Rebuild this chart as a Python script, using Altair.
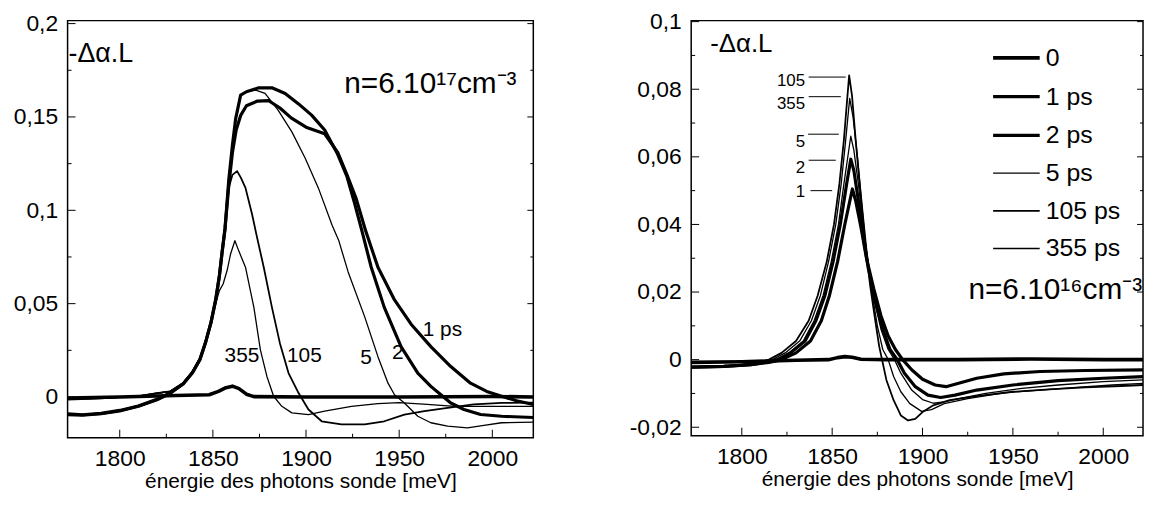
import altair as alt
import pandas as pd

FONT = "Liberation Sans"
SERIES = ["0", "1 ps", "2 ps", "5 ps", "105 ps", "355 ps"]
WIDTHS = [3.6, 3.2, 3.2, 1.3, 1.8, 1.3]

X_DOMAIN = [1772, 2022]
X_MAJOR = [1800, 1850, 1900, 1950, 2000]
X_MINOR = [1825, 1875, 1925, 1975]
X_TITLE = "énergie des photons sonde [meV]"

# ---------------- left panel (n = 6.10^17 cm^-3) ----------------
L0_E = [1772, 1800, 1830, 1848, 1853, 1857, 1860.5, 1864, 1868, 1872, 1900, 1950, 2000, 2022]
L0_V = [-0.0005, 0.0, 0.0008, 0.0012, 0.003, 0.005, 0.0058, 0.0045, 0.0015, 0.0002, 0.0, 0.0, 0.0003, 0.0]

L1_E = [1772, 1780, 1790, 1800, 1810, 1820, 1827, 1834, 1839, 1843, 1846, 1849, 1851.5, 1853.5, 1855,
        1856.5, 1858.5, 1860.5, 1862.5, 1865, 1868, 1874, 1880, 1886, 1892, 1900, 1910, 1917, 1922,
        1927, 1932, 1938.6, 1947.5, 1956.4, 1967, 1977.7, 1988.3, 1997, 2005, 2013, 2022]
L1_V = [-0.0095, -0.0098, -0.009, -0.0075, -0.005, -0.0015, 0.002, 0.007, 0.013, 0.02, 0.029, 0.04,
        0.052, 0.065, 0.078, 0.09, 0.113, 0.131, 0.143, 0.151, 0.156, 0.1585, 0.1587, 0.1548, 0.1495,
        0.1445, 0.141, 0.131, 0.119, 0.106, 0.089, 0.0695, 0.052, 0.039, 0.027, 0.0163, 0.0074, 0.003,
        0.0004, -0.002, -0.004]

L2_E = [1772, 1780, 1790, 1800, 1810, 1820, 1827, 1834, 1839, 1843, 1846, 1849, 1851.5, 1853.5, 1855,
        1856.5, 1858.5, 1860.5, 1862.2, 1864.9, 1868, 1874.6, 1881.7, 1888.8, 1896, 1903, 1910, 1917,
        1922, 1926, 1930, 1935, 1942, 1951, 1960, 1967, 1972.4, 1977.7, 1984.8, 1993.7, 2005, 2022]
L2_V = [-0.009, -0.0095, -0.0088, -0.0072, -0.0048, -0.0012, 0.002, 0.007, 0.013, 0.02, 0.029, 0.04,
        0.052, 0.065, 0.078, 0.09, 0.116, 0.135, 0.149, 0.1617, 0.1635, 0.1656, 0.1656, 0.1626, 0.157,
        0.151, 0.143, 0.130, 0.118, 0.104, 0.089, 0.0695, 0.048, 0.027, 0.0128, 0.0057, 0.0012,
        -0.0032, -0.0067, -0.0094, -0.0103, -0.011]

L5_E = [1772, 1790, 1810, 1820, 1827, 1834, 1839, 1843, 1846, 1849, 1851.5, 1853.5, 1855, 1856.5,
        1858.5, 1860.5, 1862.2, 1864.9, 1868, 1873, 1878, 1885, 1892.4, 1899.5, 1906.6, 1914, 1917.5,
        1922.6, 1931.5, 1938.6, 1944, 1947.5, 1952.8, 1960, 1967, 1976, 1986.6, 1995.5, 2005, 2022]
L5_V = [-0.0015, -0.0008, 0.0005, 0.002, 0.003, 0.0075, 0.0135, 0.0205, 0.0295, 0.0405, 0.0525,
        0.0655, 0.0785, 0.0905, 0.117, 0.136, 0.149, 0.1617, 0.1635, 0.1644, 0.1626, 0.1537, 0.142,
        0.128, 0.112, 0.092, 0.084, 0.067, 0.0429, 0.0216, 0.0074, 0.0012, -0.0032, -0.0103, -0.0138,
        -0.0156, -0.0165, -0.0152, -0.0138, -0.0135]

L105_E = [1772, 1790, 1810, 1820, 1827, 1834, 1839, 1843, 1846, 1849, 1851.5, 1853.5, 1855, 1856.5,
          1858.5, 1860.5, 1863, 1865, 1867.5, 1871, 1873.7, 1877.3, 1881.7, 1886, 1890.6, 1896, 1901.3,
          1908.4, 1919, 1931.5, 1942, 1952.8, 1963.5, 1976, 1990, 2005, 2022]
L105_V = [-0.0012, -0.0006, 0.0005, 0.002, 0.003, 0.0075, 0.0135, 0.0205, 0.0295, 0.0405, 0.0525,
          0.0655, 0.0785, 0.0905, 0.112, 0.119, 0.121, 0.1175, 0.112, 0.098, 0.0855, 0.0695, 0.048,
          0.0287, 0.0128, 0.0021, -0.0067, -0.013, -0.0147, -0.0147, -0.013, -0.0094, -0.0076,
          -0.0058, -0.004, -0.0032, -0.003]

L355_E = [1772, 1790, 1810, 1820, 1827, 1834, 1839, 1843, 1846, 1849, 1851.5, 1853.5, 1855.5, 1857.7,
          1859.5, 1861.8, 1864, 1867.5, 1872, 1875.5, 1879, 1882.6, 1887, 1892.4, 1901.3, 1910,
          1924.4, 1938.6, 1950, 1965, 1980, 2000, 2022]
L355_V = [-0.001, -0.0005, 0.0005, 0.002, 0.003, 0.0075, 0.0135, 0.0205, 0.0295, 0.0405, 0.05, 0.057,
          0.0605, 0.068, 0.0766, 0.0837, 0.078, 0.0695, 0.048, 0.0252, 0.011, 0.0004, -0.005, -0.0085,
          -0.0094, -0.0076, -0.005, -0.0035, -0.003, -0.004, -0.005, -0.005, -0.005]

L_Y_DOMAIN = [-0.0218, 0.2016]
L_Y_MAJOR = [0, 0.05, 0.1, 0.15, 0.2]
L_Y_MINOR = [0.025, 0.075, 0.125, 0.175]
L_CURVE_TXT = ["355", "105", "5", "2", "1 ps"]
L_CURVE_E = [1865.6, 1899.1, 1932.2, 1949.3, 1973.2]
L_CURVE_V = [0.0218, 0.0218, 0.0207, 0.0234, 0.0356]

# ---------------- right panel (n = 6.10^16 cm^-3) ----------------
R0_E = [1772, 1800, 1830, 1848, 1853, 1857, 1861, 1866, 1880, 1920, 1960, 2000, 2022]
R0_V = [-0.0008, -0.0006, -0.0002, 0.0, 0.0006, 0.0009, 0.0007, 0.0001, 0.0, 0.0, 0.0002, 0.0, 0.0]

R1_E = [1772, 1790, 1805, 1815, 1822, 1830, 1838, 1844, 1848.5, 1853, 1857, 1861.2, 1863, 1866, 1869,
        1873, 1877, 1881, 1885, 1889, 1894, 1900, 1907, 1913, 1920, 1930, 1945, 1965, 1990, 2022]
R1_V = [-0.0022, -0.002, -0.0015, -0.0008, 0.0, 0.002, 0.0055, 0.0115, 0.019, 0.029, 0.040, 0.0505,
        0.047, 0.039, 0.030, 0.021, 0.013, 0.007, 0.003, 0.0, -0.003, -0.0058, -0.0075, -0.008,
        -0.007, -0.0055, -0.0042, -0.0035, -0.0032, -0.003]

R2_E = [1772, 1790, 1805, 1813, 1820, 1827, 1835, 1841, 1846, 1850.5, 1854.5, 1858, 1860.3, 1862,
        1864.5, 1867, 1870, 1874, 1878, 1882, 1886, 1890, 1896, 1903, 1910, 1918, 1930, 1950, 1975,
        2000, 2022]
R2_V = [-0.0022, -0.002, -0.0015, -0.0008, 0.0, 0.002, 0.0055, 0.0115, 0.019, 0.029, 0.040, 0.052,
        0.0593, 0.056, 0.047, 0.037, 0.027, 0.017, 0.009, 0.003, 0.0, -0.004, -0.008, -0.0105,
        -0.0112, -0.0105, -0.009, -0.0075, -0.0062, -0.0055, -0.005]

R5_E = [1772, 1790, 1805, 1812, 1819, 1826, 1834, 1840, 1845, 1849.5, 1853.5, 1856.5, 1860.3, 1862,
        1864.5, 1867, 1870, 1873.5, 1877, 1881, 1884.5, 1888, 1894, 1900, 1906, 1912, 1920, 1935,
        1955, 1975, 2000, 2022]
R5_V = [-0.0022, -0.002, -0.0015, -0.0008, 0.0, 0.002, 0.0055, 0.0115, 0.019, 0.029, 0.040, 0.052,
        0.0661, 0.062, 0.052, 0.040, 0.028, 0.017, 0.009, 0.003, 0.0, -0.004, -0.009, -0.0118,
        -0.0129, -0.0125, -0.0115, -0.010, -0.0085, -0.0075, -0.0065, -0.006]

R105_E = [1772, 1790, 1800, 1808, 1815, 1822, 1830, 1837, 1842, 1847, 1851, 1854, 1856.5, 1858,
          1859.4, 1861, 1863, 1865.5, 1868, 1871, 1874, 1876, 1877.6, 1880, 1884, 1888, 1892, 1896,
          1900, 1906, 1915, 1930, 1950, 1970, 1990, 2010, 2022]
R105_V = [-0.0022, -0.002, -0.0015, -0.0008, 0.0, 0.002, 0.0055, 0.0115, 0.019, 0.029, 0.040, 0.052,
          0.065, 0.075, 0.0841, 0.078, 0.065, 0.050, 0.036, 0.022, 0.011, 0.004, 0.0, -0.006, -0.012,
          -0.0165, -0.018, -0.0175, -0.0155, -0.0135, -0.012, -0.0108, -0.0095, -0.0088, -0.0082,
          -0.0078, -0.0075]

R355_E = [1772, 1790, 1802, 1810, 1817, 1824, 1832, 1838.5, 1843.5, 1848, 1852, 1855, 1857.5, 1859.7,
          1861.5, 1864, 1866.5, 1869, 1872, 1875, 1878, 1881, 1884, 1888, 1893, 1899.5, 1905, 1912,
          1925, 1945, 1965, 1985, 2005, 2022]
R355_V = [-0.0022, -0.002, -0.0015, -0.0008, 0.0, 0.002, 0.0055, 0.0115, 0.019, 0.029, 0.040, 0.052,
          0.065, 0.0773, 0.072, 0.060, 0.046, 0.033, 0.020, 0.010, 0.003, 0.0, -0.005, -0.0095,
          -0.013, -0.0153, -0.0148, -0.013, -0.0115, -0.0098, -0.009, -0.0082, -0.0075, -0.007]

R_Y_DOMAIN = [-0.0225, 0.1003]
R_Y_MAJOR = [-0.02, 0, 0.02, 0.04, 0.06, 0.08, 0.1]
R_Y_MINOR = [-0.01, 0.01, 0.03, 0.05, 0.07, 0.09]
R_CURVE_TXT = ["105", "355", "5", "2", "1"]
R_CURVE_V = [0.0825, 0.0756, 0.0645, 0.0567, 0.0495]
R_CURVE_E = [1835.0, 1835.0, 1835.0, 1835.0, 1835.0]
R_LEAD_E1 = [1837.0, 1837.0, 1836.7, 1837.0, 1838.0]
R_LEAD_E2 = [1857.5, 1854.8, 1853.7, 1852.0, 1850.0]
R_LEAD_V = [0.0836, 0.0778, 0.0667, 0.0590, 0.0500]


def series_frame(e_lists, v_lists):
    rows = []
    for s, es, vs in zip(SERIES, e_lists, v_lists):
        for e, v in zip(es, vs):
            rows.append({"s": s, "E": e, "v": v})
    return pd.DataFrame(rows)


LABEL_EXPR = "replace(replace(format(datum.value, '~g'), '.', ','), '\u2212', '-')"


def make_panel(df, y_domain, y_major, y_minor, W, H, y_extent, legend, texts, leaders=None):
    xs = alt.Scale(domain=X_DOMAIN, nice=False, zero=False)
    ys = alt.Scale(domain=y_domain, nice=False, zero=False)
    x_axis = alt.Axis(values=X_MAJOR, format="d", labelPadding=10, titlePadding=0, labelFlush=False)
    y_axis = alt.Axis(values=y_major, labelExpr=LABEL_EXPR, labelPadding=10,
                      minExtent=y_extent, maxExtent=y_extent)

    def X(field):
        return alt.X(field, scale=xs, title=X_TITLE, axis=x_axis)

    def Y(field):
        return alt.Y(field, scale=ys, title=None, axis=y_axis)

    lines = alt.Chart(df).mark_line(color="black", clip=True, strokeJoin="round").encode(
        x=X("E:Q"), y=Y("v:Q"),
        strokeWidth=alt.StrokeWidth("s:N", scale=alt.Scale(type="ordinal", domain=SERIES, range=WIDTHS),
                                    legend=legend),
        detail="s:N",
    )
    layers = [lines]
    layers.append(alt.Chart(pd.DataFrame({"E": X_MAJOR})).mark_rule(color="black").encode(
        x=X("E:Q"), y=alt.value(H), y2=alt.value(H - 8)))
    layers.append(alt.Chart(pd.DataFrame({"E": X_MINOR})).mark_rule(color="black").encode(
        x=X("E:Q"), y=alt.value(H), y2=alt.value(H - 4)))
    layers.append(alt.Chart(pd.DataFrame({"v": y_major})).mark_rule(color="black").encode(
        y=Y("v:Q"), x=alt.value(0), x2=alt.value(8)))
    layers.append(alt.Chart(pd.DataFrame({"v": y_minor})).mark_rule(color="black").encode(
        y=Y("v:Q"), x=alt.value(0), x2=alt.value(4)))
    layers.append(alt.Chart(pd.DataFrame({"v": y_major})).mark_rule(color="black").encode(
        y=Y("v:Q"), x=alt.value(W), x2=alt.value(W - 6)))
    layers.append(alt.Chart(pd.DataFrame({"v": y_minor})).mark_rule(color="black").encode(
        y=Y("v:Q"), x=alt.value(W), x2=alt.value(W - 3)))
    for tdf, props in texts:
        layers.append(alt.Chart(tdf).mark_text(font=FONT, color="black", **props).encode(
            x=X("E:Q"), y=Y("v:Q"), text="txt:N"))
    if leaders is not None:
        layers.append(alt.Chart(leaders).mark_rule(color="black", strokeWidth=1).encode(
            x=X("E:Q"), x2="E2:Q", y=Y("v:Q")))
    return alt.layer(*layers).properties(width=W, height=H)


# left panel
left_df = series_frame([L0_E, L1_E, L2_E, L5_E, L105_E, L355_E],
                       [L0_V, L1_V, L2_V, L5_V, L105_V, L355_V])
left_texts = [
    (pd.DataFrame({"E": [1772.5], "v": [0.1835], "txt": ["-\u0394\u03b1.L"]}),
     dict(align="left", baseline="middle", fontSize=27)),
    (pd.DataFrame({"E": [2013.0], "v": [0.1675], "txt": ["n=6.10\u00b9\u2077cm\u207b\u00b3"]}),
     dict(align="right", baseline="middle", fontSize=30)),
    (pd.DataFrame({"E": L_CURVE_E, "v": L_CURVE_V, "txt": L_CURVE_TXT}),
     dict(align="center", baseline="middle", fontSize=21)),
]
left = make_panel(left_df, L_Y_DOMAIN, L_Y_MAJOR, L_Y_MINOR, 469, 420, 59, None, left_texts)

# right panel
right_df = series_frame([R0_E, R1_E, R2_E, R5_E, R105_E, R355_E],
                        [R0_V, R1_V, R2_V, R5_V, R105_V, R355_V])
right_texts = [
    (pd.DataFrame({"E": [1782.5], "v": [0.0935], "txt": ["-\u0394\u03b1.L"]}),
     dict(align="left", baseline="middle", fontSize=26)),
    (pd.DataFrame({"E": [2021.5], "v": [0.0205], "txt": ["n=6.10\u00b9\u2076cm\u207b\u00b3"]}),
     dict(align="right", baseline="middle", fontSize=30)),
    (pd.DataFrame({"E": R_CURVE_E, "v": R_CURVE_V, "txt": R_CURVE_TXT}),
     dict(align="right", baseline="middle", fontSize=17)),
]
legend = alt.Legend(orient="none", legendX=302, legendY=12, symbolType="stroke", symbolSize=2200,
                    symbolStrokeColor="black", labelFontSize=25, labelFont=FONT, title=None,
                    rowPadding=0, labelOffset=4, padding=0, labelColor="black")
lead_df = pd.DataFrame({"E": R_LEAD_E1, "E2": R_LEAD_E2, "v": R_LEAD_V})
right = make_panel(right_df, R_Y_DOMAIN, R_Y_MAJOR, R_Y_MINOR, 455, 418, 64, legend, right_texts,
                   leaders=lead_df)

chart = alt.hconcat(left, right, spacing=159, bounds="flush").resolve_scale(
    strokeWidth="independent").resolve_legend(strokeWidth="independent").properties(
    padding={"left": 0, "top": 0, "right": 0, "bottom": 0}
).configure_view(stroke="black", strokeWidth=1.5).configure_axis(
    labelFont=FONT, labelFontSize=23, labelColor="black", ticks=False, domain=False, grid=False,
    titleFont=FONT, titleFontSize=21, titleFontWeight="normal", titleColor="black"
)

chart.save("out.html", embed_options={"renderer": "svg", "actions": False})
